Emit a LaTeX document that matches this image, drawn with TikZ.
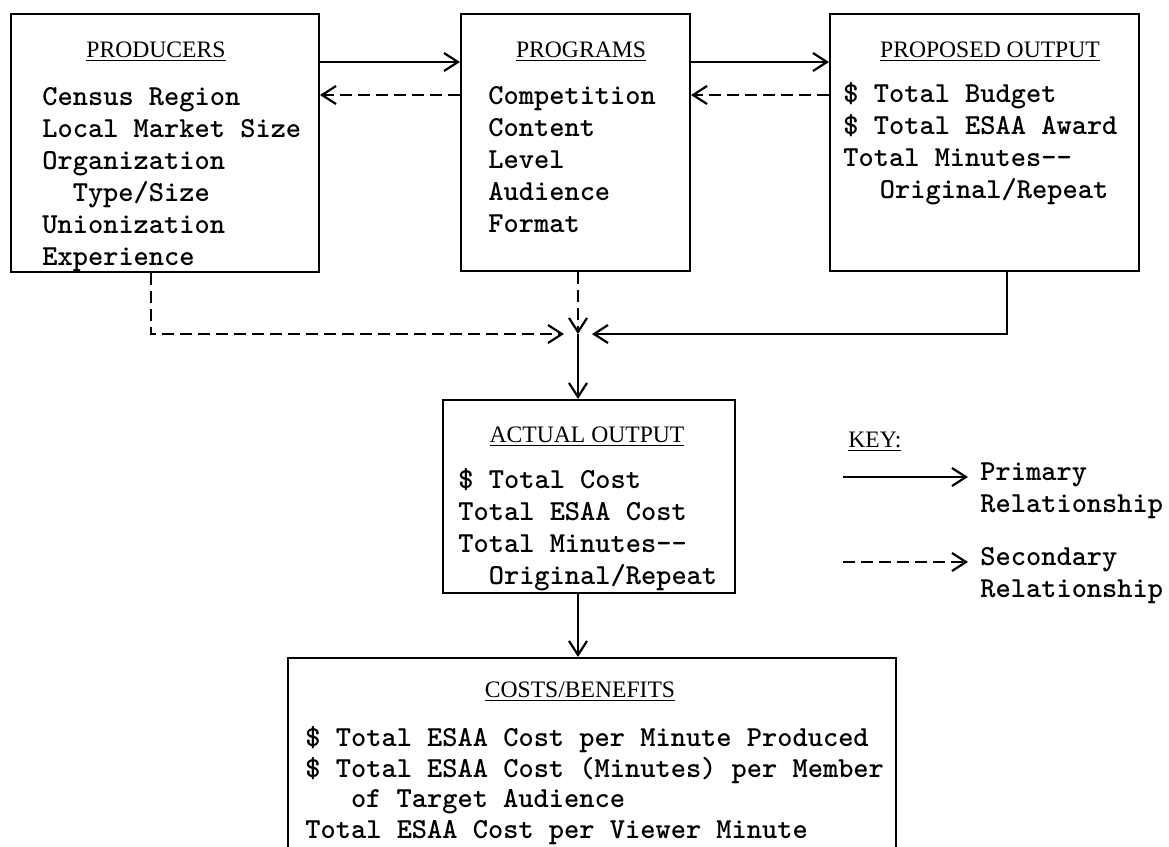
\documentclass[tikz,border=0pt]{standalone}
\usepackage{fontspec}
\setmainfont{Liberation Serif}
\usetikzlibrary{arrows.meta, calc}

\newcommand{\headfont}{\rmfamily\fontsize{11.8}{14}\selectfont}
\newcommand{\itemfont}{\ttfamily\bfseries\fontsize{14.5}{16}\selectfont}
\newcommand{\costfont}{\ttfamily\bfseries\fontsize{14.5}{15.25}\selectfont}
\newcommand{\listind}[1]{\hspace*{#1\dimexpr7.6pt\relax}}

\begin{document}
\begin{tikzpicture}[x=0.5pt, y=-0.5pt,
	box/.style={draw, line width=1pt, anchor=north west, inner sep=0pt},
	head/.style={anchor=base, inner sep=0pt, font=\headfont},
	items/.style={anchor=base west, align=left, inner sep=0pt, font=\itemfont},
	primary/.style={line width=1.1pt, -{Straight Barb[length=7pt, width=9pt, line width=1.1pt]}},
	secondary/.style={primary, dash pattern=on 6pt off 3pt}]
	\useasboundingbox (0,0) rectangle (1169,847);
	\clip (0,0) rectangle (1169,847);

	% boxes
	\node[box, minimum width=154pt, minimum height=129pt] (prod) at (10,13) {};
	\node[box, minimum width=114.5pt, minimum height=128.5pt] (prog) at (460,13) {};
	\node[box, minimum width=154.5pt, minimum height=128.5pt] (prop) at (829,13) {};
	\node[box, minimum width=146pt, minimum height=96.5pt] (act) at (442,399) {};
	\node[box, minimum width=304pt, minimum height=125pt] (cost) at (287,657) {};

	% headings
	\node[head] (prod-h) at (156,57) {\underline{PRODUCERS}};
	\node[head] (prog-h) at (581,57) {\underline{PROGRAMS}};
	\node[head] (prop-h) at (990,57) {\underline{PROPOSED OUTPUT}};
	\node[head] (act-h) at (587,442) {\underline{ACTUAL OUTPUT}};
	\node[head] (cost-h) at (580,697) {\underline{COSTS/BENEFITS}};
	\node[head, anchor=base west] (key) at (848,447) {\underline{KEY:}};

	% contents (placed at the baseline of their last line)
	\node[items] (prod-l) at (42,265) {Census Region\\Local Market Size\\Organization\\\listind{2}Type/Size\\Unionization\\Experience};
	\node[items] (prog-l) at (488,232) {Competition\\Content\\Level\\Audience\\Format};
	\node[items] (prop-l) at (843,198) {\$ Total Budget\\\$ Total ESAA Award\\Total Minutes-{}-\\\listind{2.4}Original/Repeat};
	\node[items] (act-l) at (458,584) {\$ Total Cost\\Total ESAA Cost\\Total Minutes-{}-\\\listind{2}Original/Repeat};
	\node[items, font=\costfont] (cost-l) at (305,838) {\$ Total ESAA Cost per Minute Produced\\\$ Total ESAA Cost (Minutes) per Member\\\listind{3}of Target Audience\\Total ESAA Cost per Viewer Minute};

	% key
	\node[items] (prim-t) at (980,512) {Primary\\Relationship};
	\node[items] (sec-t) at (980,597) {Secondary\\Relationship};
	\coordinate (prim-s) at (843,477);
	\coordinate (sec-s) at (843,562);
	\draw[primary, shorten >=6pt] (prim-s) -- (prim-s -| prim-t.west);
	\draw[secondary, shorten >=6pt] (sec-s) -- (sec-s -| sec-t.west);

	% top relationships
	\draw[primary] ($(prod.north east)+(0,49)$) -- ($(prog.north west)+(0,49)$);
	\draw[secondary] ($(prog.north west)+(0,82)$) -- ($(prod.north east)+(0,82)$);
	\draw[primary] ($(prog.north east)+(0,49)$) -- ($(prop.north west)+(0,49)$);
	\draw[secondary] ($(prop.north west)+(0,82)$) -- ($(prog.north east)+(0,82)$);

	% into actual output
	\coordinate (join) at (578,334);
	\draw[secondary, shorten >=7pt] ($(prod.south west)+(141,0)$) |- (join);
	\draw[secondary] (prog.south -| join) -- (join);
	\draw[primary, shorten >=7pt] ($(prop.south west)+(178,0)$) |- (join);
	\draw[primary] (join) -- (act.north -| join);
	\draw[primary] (act.south -| join) -- (cost.north -| join);
\end{tikzpicture}
\end{document}
